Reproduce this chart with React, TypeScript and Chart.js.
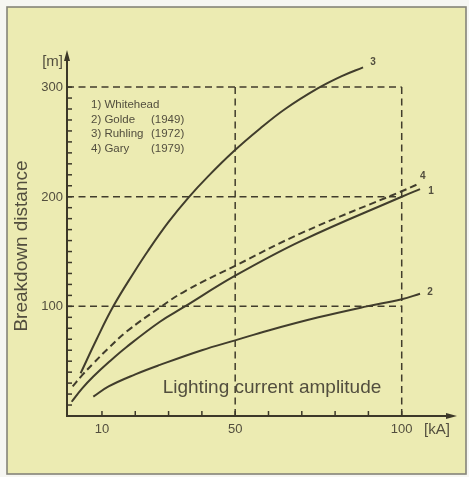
import React, { useEffect, useRef } from "react";
import { Chart, registerables } from "chart.js";

Chart.register(...registerables);

// ---- data ----
const whiteheadCurrent = [0.9, 4, 7.4, 12, 17.4, 27.4, 34.4, 50, 70, 100, 105.5];
const whiteheadDistance = [13, 25, 36, 49, 63, 86, 99, 128, 160, 200, 207];

const goldeCurrent = [7.4, 12, 20, 27.4, 40, 50, 60, 75, 89.5, 100, 105.5];
const goldeDistance = [17.6, 27, 38, 46.6, 60, 69, 78, 90, 100, 106.5, 111.5];

const ruhlingCurrent = [3.6, 8.4, 13.4, 19.4, 23.9, 30, 35.9, 42, 49.4, 57.4, 65, 74.9, 82, 88.4];
const ruhlingDistance = [39, 70, 100, 130, 151, 177, 199, 219, 241, 262, 280, 299, 310, 318];

const garyCurrent = [1.2, 4, 7.4, 12, 17.4, 27.4, 35, 50, 70, 100, 104.5];
const garyDistance = [27, 37, 48, 62, 77, 99, 114, 137, 167, 205, 211];

const curveNumbers = ["1", "2", "3", "4"];
const legendNames = ["1) Whitehead", "2) Golde", "3) Ruhling", "4) Gary"];
const legendYears = ["", "(1949)", "(1972)", "(1979)"];

const xTickLabels = [10, 50, 100];
const xMinorTicks = [10, 20, 30, 40, 50, 60, 70, 80, 90, 100];
const yTickLabels = [100, 200, 300];
const yMinorTicks = [
  10, 20, 30, 40, 50, 60, 70, 80, 90, 100, 110, 120, 130, 140, 150, 160, 170, 180, 190, 200,
  210, 220, 230, 240, 250, 260, 270, 280, 290, 300,
];
const refCurrents = [50, 100];
const refDistances = [100, 200, 300];

const xAxisTitle = "Lighting current amplitude";
const yAxisTitle = "Breakdown distance";
const xUnit = "[kA]";
const yUnit = "[m]";

// ---- styles ----
const INK = "#413d2c";
const TEXT = "#524e3e";
const FONT = '"Liberation Sans", Arial, sans-serif';

const toPoints = (xs: number[], ys: number[]) => xs.map((x, i) => ({ x, y: ys[i] }));

export default function App() {
  const ref = useRef<HTMLCanvasElement | null>(null);

  useEffect(() => {
    if (!ref.current) return;

    const decor = {
      id: "decor",
      beforeDraw(chart: any) {
        const ctx = chart.ctx;
        ctx.save();
        ctx.fillStyle = "#f6f6f2";
        ctx.fillRect(0, 0, chart.width, chart.height);
        ctx.fillStyle = "#ecebb2";
        ctx.fillRect(7, 7, 459, 467);
        ctx.strokeStyle = "#858478";
        ctx.lineWidth = 1.6;
        ctx.strokeRect(7, 7, 459, 467);
        ctx.restore();
      },
      beforeDatasetsDraw(chart: any) {
        const ctx = chart.ctx;
        const xs = chart.scales.x;
        const ys = chart.scales.y;
        const area = chart.chartArea;
        ctx.save();
        // reference dashed lines
        ctx.strokeStyle = INK;
        ctx.lineWidth = 1.5;
        ctx.setLineDash([7, 4.5]);
        const xRight = xs.getPixelForValue(refCurrents[refCurrents.length - 1]);
        refDistances.forEach((d) => {
          const py = ys.getPixelForValue(d);
          ctx.beginPath();
          ctx.moveTo(area.left, py);
          ctx.lineTo(xRight, py);
          ctx.stroke();
        });
        const yTop = ys.getPixelForValue(refDistances[refDistances.length - 1]);
        refCurrents.forEach((c) => {
          const px = xs.getPixelForValue(c);
          ctx.beginPath();
          ctx.moveTo(px, yTop);
          ctx.lineTo(px, area.bottom);
          ctx.stroke();
        });
        ctx.setLineDash([]);

        // axes
        ctx.strokeStyle = "#3c3828";
        ctx.lineWidth = 2;
        ctx.beginPath();
        ctx.moveTo(area.left, area.top + 4);
        ctx.lineTo(area.left, area.bottom);
        ctx.lineTo(area.right - 4, area.bottom);
        ctx.stroke();
        // arrowheads
        ctx.fillStyle = "#3c3828";
        ctx.beginPath();
        ctx.moveTo(area.left, area.top - 2);
        ctx.lineTo(area.left - 3, area.top + 9);
        ctx.lineTo(area.left + 3, area.top + 9);
        ctx.closePath();
        ctx.fill();
        ctx.beginPath();
        ctx.moveTo(area.right + 2, area.bottom);
        ctx.lineTo(area.right - 9, area.bottom - 3);
        ctx.lineTo(area.right - 9, area.bottom + 3);
        ctx.closePath();
        ctx.fill();

        // ticks (inward)
        ctx.lineWidth = 1.5;
        xMinorTicks.forEach((t) => {
          const px = xs.getPixelForValue(t);
          ctx.beginPath();
          ctx.moveTo(px, area.bottom);
          ctx.lineTo(px, area.bottom - 5);
          ctx.stroke();
        });
        yMinorTicks.forEach((t) => {
          const py = ys.getPixelForValue(t);
          ctx.beginPath();
          ctx.moveTo(area.left, py);
          ctx.lineTo(area.left + 5, py);
          ctx.stroke();
        });

        // tick labels
        ctx.fillStyle = TEXT;
        ctx.font = `13px ${FONT}`;
        ctx.textAlign = "center";
        ctx.textBaseline = "middle";
        xTickLabels.forEach((t) => {
          ctx.fillText(String(t), xs.getPixelForValue(t), area.bottom + 13);
        });
        ctx.textAlign = "right";
        yTickLabels.forEach((t) => {
          ctx.fillText(String(t), area.left - 4, ys.getPixelForValue(t) + 0.5);
        });

        // units
        ctx.font = `15px ${FONT}`;
        ctx.textAlign = "center";
        ctx.fillText(xUnit, area.right - 18, area.bottom + 14);
        ctx.textAlign = "right";
        ctx.fillText(yUnit, area.left - 4, area.top + 10);

        // axis titles
        ctx.font = `19px ${FONT}`;
        ctx.textAlign = "center";
        ctx.fillText(xAxisTitle, 272, area.bottom - 28);
        ctx.save();
        ctx.translate(22, 246);
        ctx.rotate(-Math.PI / 2);
        ctx.fillText(yAxisTitle, 0, 0);
        ctx.restore();

        // legend text
        ctx.font = `11.5px ${FONT}`;
        ctx.textAlign = "left";
        legendNames.forEach((n, i) => {
          const y = 105 + i * 14.6;
          ctx.fillText(n, 91, y);
          if (legendYears[i]) ctx.fillText(legendYears[i], 151, y);
        });
        ctx.restore();
      },
      afterDatasetsDraw(chart: any) {
        const ctx = chart.ctx;
        const offsets = [
          [11, 2],
          [10, -2],
          [10, -5],
          [6, -8],
        ];
        ctx.save();
        ctx.fillStyle = TEXT;
        ctx.font = `bold 10px ${FONT}`;
        ctx.textAlign = "center";
        ctx.textBaseline = "middle";
        chart.data.datasets.forEach((ds: any, i: number) => {
          const meta = chart.getDatasetMeta(i);
          const last = meta.data[meta.data.length - 1];
          ctx.fillText(curveNumbers[i], last.x + offsets[i][0], last.y + offsets[i][1]);
        });
        ctx.restore();
      },
    };

    const common = {
      borderColor: INK,
      borderWidth: 2,
      pointRadius: 0,
      tension: 0.4,
    };

    const chart = new Chart(ref.current, {
      type: "line",
      data: {
        datasets: [
          { ...common, label: legendNames[0], data: toPoints(whiteheadCurrent, whiteheadDistance) },
          { ...common, label: legendNames[1], data: toPoints(goldeCurrent, goldeDistance) },
          { ...common, label: legendNames[2], data: toPoints(ruhlingCurrent, ruhlingDistance) },
          {
            ...common,
            label: legendNames[3],
            data: toPoints(garyCurrent, garyDistance),
            borderDash: [7, 4],
          },
        ],
      },
      options: {
        responsive: false,
        animation: false,
        devicePixelRatio: 1,
        layout: { padding: { left: 67, right: 14, top: 52, bottom: 61 } },
        plugins: { legend: { display: false }, tooltip: { enabled: false } },
        scales: {
          x: { type: "linear", min: -0.5, max: 116, display: false },
          y: { type: "linear", min: 0, max: 332, display: false },
        },
      },
      plugins: [decor],
    } as any);

    return () => chart.destroy();
  }, []);

  return (
    <div style={{ position: "absolute", left: 0, top: 0, width: 469, height: 477 }}>
      <canvas ref={ref} width={469} height={477} style={{ display: "block" }} />
    </div>
  );
}
